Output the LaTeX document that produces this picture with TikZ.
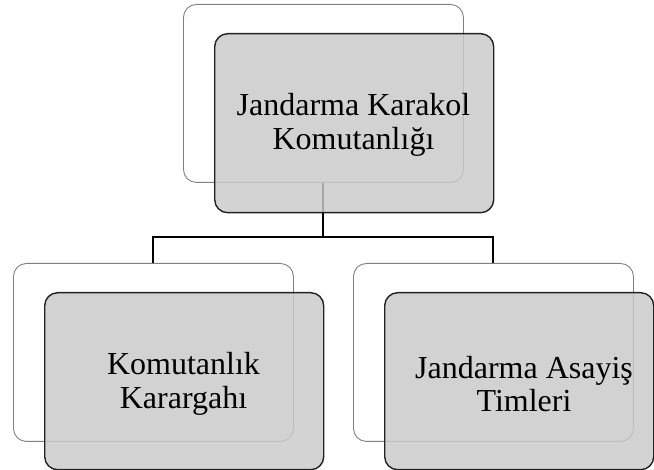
\documentclass[tikz,border=0pt]{standalone}
\usepackage{fontspec}
\setmainfont{Liberation Serif}
\definecolor{backline}{RGB}{128,128,128}
\definecolor{frontfill}{RGB}{202,202,202}
\definecolor{frontline}{RGB}{34,34,34}
\begin{document}
\begin{tikzpicture}[x=1pt,y=-1pt,
  backbox/.style={draw=backline,line width=0.9pt,fill=white,rounded corners=13pt,
    minimum width=280pt,minimum height=178pt,inner sep=0pt,anchor=north west},
  frontbox/.style={draw=frontline,line width=1.4pt,fill=frontfill,fill opacity=0.83,
    draw opacity=1,text opacity=1,rounded corners=13pt,
    minimum height=177pt,inner sep=0pt,anchor=north west},
  label/.style={align=center,font=\fontsize{32}{33.5}\selectfont,text=black},
  link/.style={draw=black,line width=2pt}]
\useasboundingbox (0,0) rectangle (654,470);
% back cards
\node[backbox] (tb) at (183,4) {};
\node[backbox] (lb) at (13,263) {};
\node[backbox] (rb) at (353,263) {};
% connectors of the chart
\coordinate (bus) at (tb.south |- 0,237);
\draw[link] (tb.south) -- (bus) -| (lb.north);
\draw[link] (bus) -| (rb.north);
% front cards
\node[frontbox,minimum width=279pt,minimum height=179pt] (tf) at (214,33) {};
\node[frontbox,minimum width=279pt] (lf) at (44,292) {};
\node[frontbox,minimum width=269pt] (rf) at (384,292) {};
% texts
\node[label] (tt) at (353.5,125) {Jandarma Karakol\\Komutanlığı};
\node[label] (lt) at (183.5,384) {Komutanlık\\Karargahı};
\node[label] (rt) at (524,384) {Jandarma Asayiş\\Timleri};
\end{tikzpicture}
\end{document}
